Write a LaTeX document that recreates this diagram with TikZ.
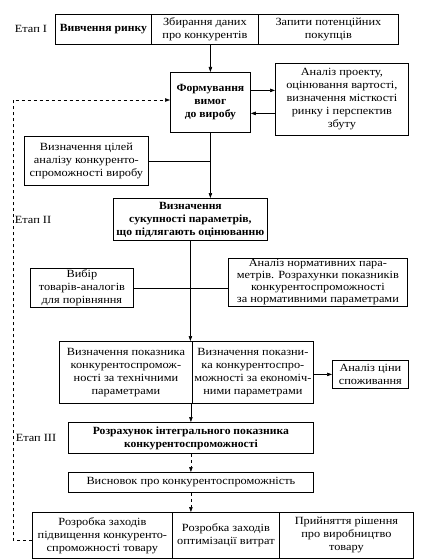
\documentclass[tikz,border=0pt]{standalone}
\usepackage{fontspec}
\setmainfont{Liberation Serif}[FakeStretch=1.12, BoldFeatures={FakeStretch=1.06}]
\usetikzlibrary{arrows.meta}
\begin{document}
\begin{tikzpicture}[x=1pt,y=-1pt]
	\tikzstyle{every node}+=[inner sep=0pt, font=\fontsize{11}{13}\selectfont]
	\tikzstyle{blok}=[draw=black, line width=0.8pt, align=center, anchor=north west]
	\tikzstyle{strilka}=[black, line width=0.6pt, -{Triangle[length=5pt,width=3.5pt]}]
	\tikzstyle{liniya}=[black, line width=0.6pt]
	\useasboundingbox (0,0) rectangle (420,559);
	% Етап I
	\node (etap1) at (31,29) {Етап І};
	\node [blok, minimum width=96pt, minimum height=30pt] (top1) at (55,14) {\textbf{Вивчення ринку}};
	\node [blok, minimum width=107pt, minimum height=30pt] (top2) at (151,14) {Збирання даних\\про конкурентів};
	\node [blok, minimum width=140pt, minimum height=30pt] (top3) at (258,14) {Запити потенційних\\покупців};
	\node [blok, minimum width=80pt, minimum height=60pt] (form) at (170,72) {\textbf{Формування}\\\textbf{вимог}\\\textbf{до виробу}};
	\node [blok, minimum width=133pt, minimum height=72pt] (proj) at (275,63) {Аналіз проекту,\\оцінювання вартості,\\визначення місткості\\ринку і перспектив\\збуту};
	\node [blok, minimum width=124pt, minimum height=49pt] (goals) at (24,136) {Визначення цілей\\аналізу конкуренто-\\спроможності виробу};
	% Етап II
	\node (etap2) at (33,220) {Етап ІІ};
	\node [blok, minimum width=154pt, minimum height=42pt] (params) at (113,198) {\textbf{Визначення}\\\textbf{сукупності параметрів,}\\\textbf{що підлягають оцінюванню}};
	\node [blok, minimum width=103pt, minimum height=39pt] (analog) at (30,268) {Вибір\\товарів-аналогів\\для порівняння};
	\node [blok, minimum width=179pt, minimum height=48pt, font=\fontsize{11}{12}\selectfont] (norm) at (228,258) {Аналіз нормативних пара-\\метрів. Розрахунки показників\\конкурентоспроможності\\за нормативними параметрами};
	\node [blok, minimum width=133pt, minimum height=62pt] (tech) at (59,341) {Визначення показника\\конкурентоспромож-\\ності за технічними\\параметрами};
	\node [blok, minimum width=121pt, minimum height=62pt] (econ) at (192,341) {Визначення показни-\\ка конкурентоспро-\\можності за економіч-\\ними параметрами};
	\node [blok, minimum width=76pt, minimum height=28pt] (price) at (332,360) {Аналіз ціни\\споживання};
	% Етап III
	\node (etap3) at (36,438) {Етап ІІІ};
	\node [blok, minimum width=245pt, minimum height=31pt] (integ) at (68,422) {\textbf{Розрахунок інтегрального показника}\\\textbf{конкурентоспроможності}};
	\node [blok, minimum width=245pt, minimum height=20pt] (concl) at (68,472) {Висновок про конкурентоспроможність};
	\node [blok, minimum width=140pt, minimum height=46pt] (act1) at (32,512) {Розробка заходів\\підвищення конкуренто-\\спроможності товару};
	\node [blok, minimum width=107pt, minimum height=46pt] (act2) at (172,512) {Розробка заходів\\оптимізації витрат};
	\node [blok, minimum width=134pt, minimum height=46pt] (act3) at (279,512) {Прийняття рішення\\про виробництво\\товару};
	% зв'язки
	\draw [strilka] (form.north |- top2.south) -- (form.north);
	\draw [strilka] ([yshift=12pt]form.east) -- ([yshift=12pt]form.east -| proj.west);
	\draw [strilka] ([yshift=-11pt]form.east -| proj.west) -- ([yshift=-11pt]form.east);
	\draw [strilka] (form.south) -- (form.south |- params.north);
	\draw [liniya] (goals.east) -- (goals.east -| form.south);
	\draw [strilka] (params.south) -- (params.south |- tech.north);
	\draw [liniya] (analog.east) -- (analog.east -| norm.west);
	\draw [strilka] (econ.east |- price.west) -- (price.west);
	\draw [strilka] (integ.north |- econ.south) -- (integ.north);
	\draw [strilka, dashed] (integ.south) -- (concl.north);
	\draw [strilka, dashed] (concl.south) -- (concl.south |- act2.north);
	\coordinate (povorot) at (13,100);
	\draw [strilka, dashed] ([yshift=-5pt]act1.west) -| (povorot) -- (povorot -| form.west);
\end{tikzpicture}
\end{document}
